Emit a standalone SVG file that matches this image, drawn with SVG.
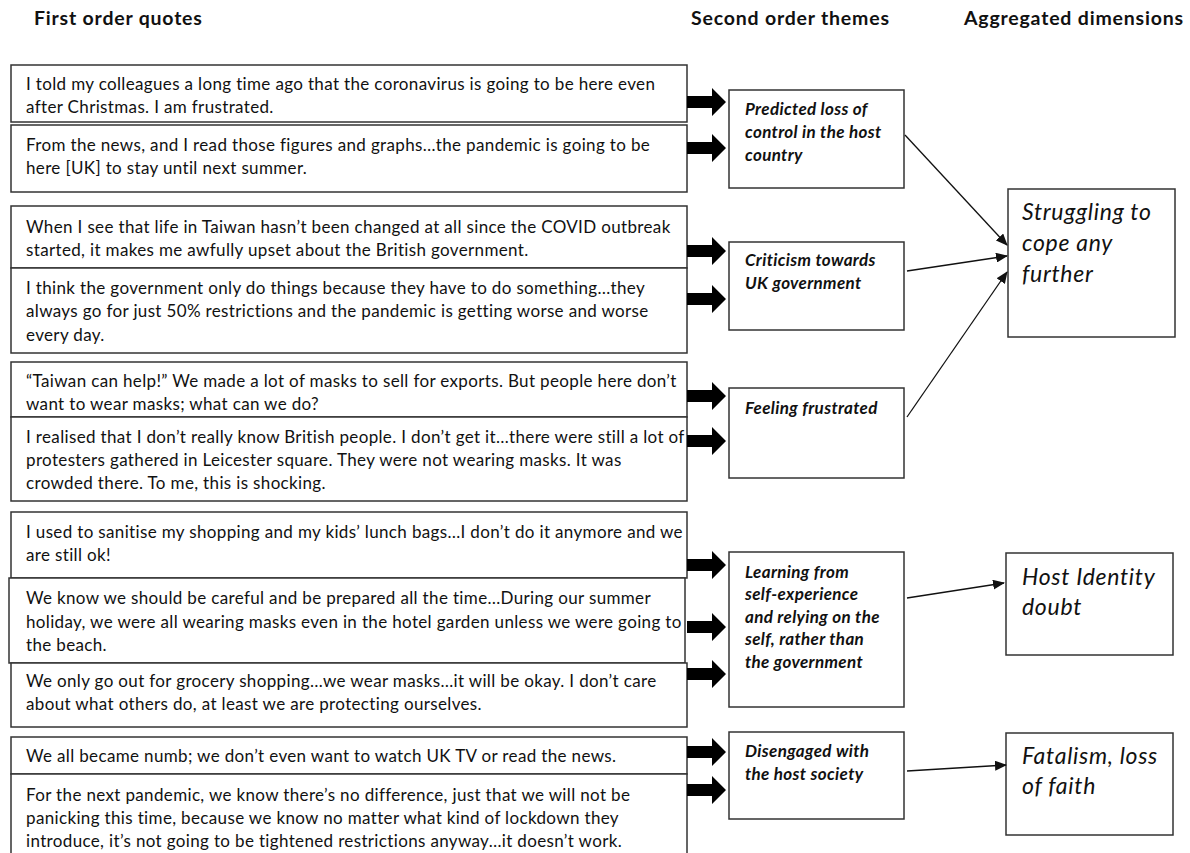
<svg xmlns="http://www.w3.org/2000/svg" width="1190" height="853" viewBox="0 0 1190 853">
<style>
.bg{fill:#fff}
.box{fill:#fff;stroke:#333;stroke-width:1.5}
.hd{font-family:Lato,"Liberation Sans",sans-serif;font-weight:bold;font-size:19.5px;letter-spacing:0.8px;fill:#111}
.q{font-family:Lato,"Liberation Sans",sans-serif;font-size:17px;letter-spacing:0.35px;fill:#111}
.t{font-family:Lato,"Liberation Sans",sans-serif;font-weight:bold;font-style:italic;font-size:17px;letter-spacing:0.35px;fill:#111}
.d{font-family:Lato,"Liberation Sans",sans-serif;font-style:italic;font-size:23px;letter-spacing:0.7px;fill:#111}
.thin{stroke:#111;stroke-width:1.3;fill:none;marker-end:url(#ah)}
.fat{fill:#000}
</style>
<defs>
<marker id="ah" viewBox="0 0 12 10" refX="11" refY="5" markerWidth="12" markerHeight="10" markerUnits="userSpaceOnUse" orient="auto">
<path d="M0,0 L12,5 L0,10 z" fill="#111"/>
</marker>
<path id="fa" d="M0,-6 L25,-6 L25,-14 L39,0 L25,14 L25,6 L0,6 z"/>
</defs>
<rect class="bg" x="0" y="0" width="1190" height="853"/>

<g id="headers">
<text class="hd" x="34" y="25">First order quotes</text>
<text class="hd" x="691" y="25">Second order themes</text>
<text class="hd" x="964" y="25">Aggregated dimensions</text>
</g>

<g id="q1"><rect class="box" x="11" y="65" width="676" height="57"/>
<text class="q" x="26" y="90">I told my colleagues a long time ago that the coronavirus is going to be here even</text>
<text class="q" x="26" y="113">after Christmas. I am frustrated.</text></g>
<g id="q2"><rect class="box" x="11" y="125" width="676" height="67"/>
<text class="q" x="26" y="151">From the news, and I read those figures and graphs…the pandemic is going to be</text>
<text class="q" x="26" y="174">here [UK] to stay until next summer.</text></g>
<g id="q3"><rect class="box" x="11" y="206" width="676" height="62"/>
<text class="q" x="26" y="233">When I see that life in Taiwan hasn’t been changed at all since the COVID outbreak</text>
<text class="q" x="26" y="256">started, it makes me awfully upset about the British government.</text></g>
<g id="q4"><rect class="box" x="11" y="268" width="676" height="85"/>
<text class="q" x="26" y="294">I think the government only do things because they have to do something…they</text>
<text class="q" x="26" y="317">always go for just 50% restrictions and the pandemic is getting worse and worse</text>
<text class="q" x="26" y="341">every day.</text></g>
<g id="q5"><rect class="box" x="11" y="362" width="676" height="55"/>
<text class="q" x="26" y="387">“Taiwan can help!” We made a lot of masks to sell for exports. But people here don’t</text>
<text class="q" x="26" y="410">want to wear masks; what can we do?</text></g>
<g id="q6"><rect class="box" x="11" y="417" width="676" height="84"/>
<text class="q" x="26" y="443">I realised that I don’t really know British people. I don’t get it…there were still a lot of</text>
<text class="q" x="26" y="466">protesters gathered in Leicester square. They were not wearing masks. It was</text>
<text class="q" x="26" y="489">crowded there. To me, this is shocking.</text></g>
<g id="q7"><rect class="box" x="11" y="512" width="676" height="66"/>
<text class="q" x="26" y="538">I used to sanitise my shopping and my kids’ lunch bags…I don’t do it anymore and we</text>
<text class="q" x="26" y="561">are still ok!</text></g>
<g id="q8"><rect class="box" x="9" y="578" width="676" height="85"/>
<text class="q" x="26" y="604">We know we should be careful and be prepared all the time…During our summer</text>
<text class="q" x="26" y="628">holiday, we were all wearing masks even in the hotel garden unless we were going to</text>
<text class="q" x="26" y="651">the beach.</text></g>
<g id="q9"><rect class="box" x="11" y="663" width="676" height="64"/>
<text class="q" x="26" y="687">We only go out for grocery shopping…we wear masks…it will be okay. I don’t care</text>
<text class="q" x="26" y="710">about what others do, at least we are protecting ourselves.</text></g>
<g id="q10"><rect class="box" x="11" y="737" width="676" height="37"/>
<text class="q" x="26" y="762">We all became numb; we don’t even want to watch UK TV or read the news.</text></g>
<g id="q11"><rect class="box" x="11" y="774" width="676" height="90"/>
<text class="q" x="26" y="801">For the next pandemic, we know there’s no difference, just that we will not be</text>
<text class="q" x="26" y="824">panicking this time, because we know no matter what kind of lockdown they</text>
<text class="q" x="26" y="847">introduce, it’s not going to be tightened restrictions anyway…it doesn’t work.</text></g>

<g id="t1"><rect class="box" x="729" y="90" width="175" height="98"/>
<text class="t" x="745" y="115">Predicted loss of</text>
<text class="t" x="745" y="138">control in the host</text>
<text class="t" x="745" y="161">country</text></g>
<g id="t2"><rect class="box" x="729" y="242" width="175" height="88"/>
<text class="t" x="745" y="266">Criticism towards</text>
<text class="t" x="745" y="289">UK government</text></g>
<g id="t3"><rect class="box" x="729" y="388" width="175" height="90"/>
<text class="t" x="745" y="414">Feeling frustrated</text></g>
<g id="t4"><rect class="box" x="729" y="552" width="175" height="155"/>
<text class="t" x="745" y="578">Learning from</text>
<text class="t" x="745" y="600">self-experience</text>
<text class="t" x="745" y="623">and relying on the</text>
<text class="t" x="745" y="645">self, rather than</text>
<text class="t" x="745" y="668">the government</text></g>
<g id="t5"><rect class="box" x="729" y="732" width="175" height="87"/>
<text class="t" x="745" y="757">Disengaged with</text>
<text class="t" x="745" y="780">the host society</text></g>

<g id="d1"><rect class="box" x="1008" y="189" width="167" height="148"/>
<text class="d" x="1022" y="220">Struggling to</text>
<text class="d" x="1022" y="251">cope any</text>
<text class="d" x="1022" y="282">further</text></g>
<g id="d2"><rect class="box" x="1006" y="553" width="167" height="102"/>
<text class="d" x="1022" y="585">Host Identity</text>
<text class="d" x="1022" y="615">doubt</text></g>
<g id="d3"><rect class="box" x="1006" y="733" width="167" height="102"/>
<text class="d" x="1022" y="764">Fatalism, loss</text>
<text class="d" x="1022" y="794">of faith</text></g>

<g id="connectors">
<use href="#fa" class="fat" x="687" y="102"/>
<use href="#fa" class="fat" x="687" y="148"/>
<use href="#fa" class="fat" x="687" y="251"/>
<use href="#fa" class="fat" x="687" y="299"/>
<use href="#fa" class="fat" x="687" y="396"/>
<use href="#fa" class="fat" x="687" y="441"/>
<use href="#fa" class="fat" x="687" y="565"/>
<use href="#fa" class="fat" x="687" y="627"/>
<use href="#fa" class="fat" x="687" y="674"/>
<use href="#fa" class="fat" x="687" y="752"/>
<use href="#fa" class="fat" x="687" y="790"/>
<line class="thin" x1="905" y1="135" x2="1007" y2="245"/>
<line class="thin" x1="907" y1="271" x2="1007" y2="256"/>
<line class="thin" x1="907" y1="417" x2="1007" y2="272"/>
<line class="thin" x1="907" y1="598" x2="1004" y2="583"/>
<line class="thin" x1="907" y1="771" x2="1006" y2="765"/>
</g>
</svg>
